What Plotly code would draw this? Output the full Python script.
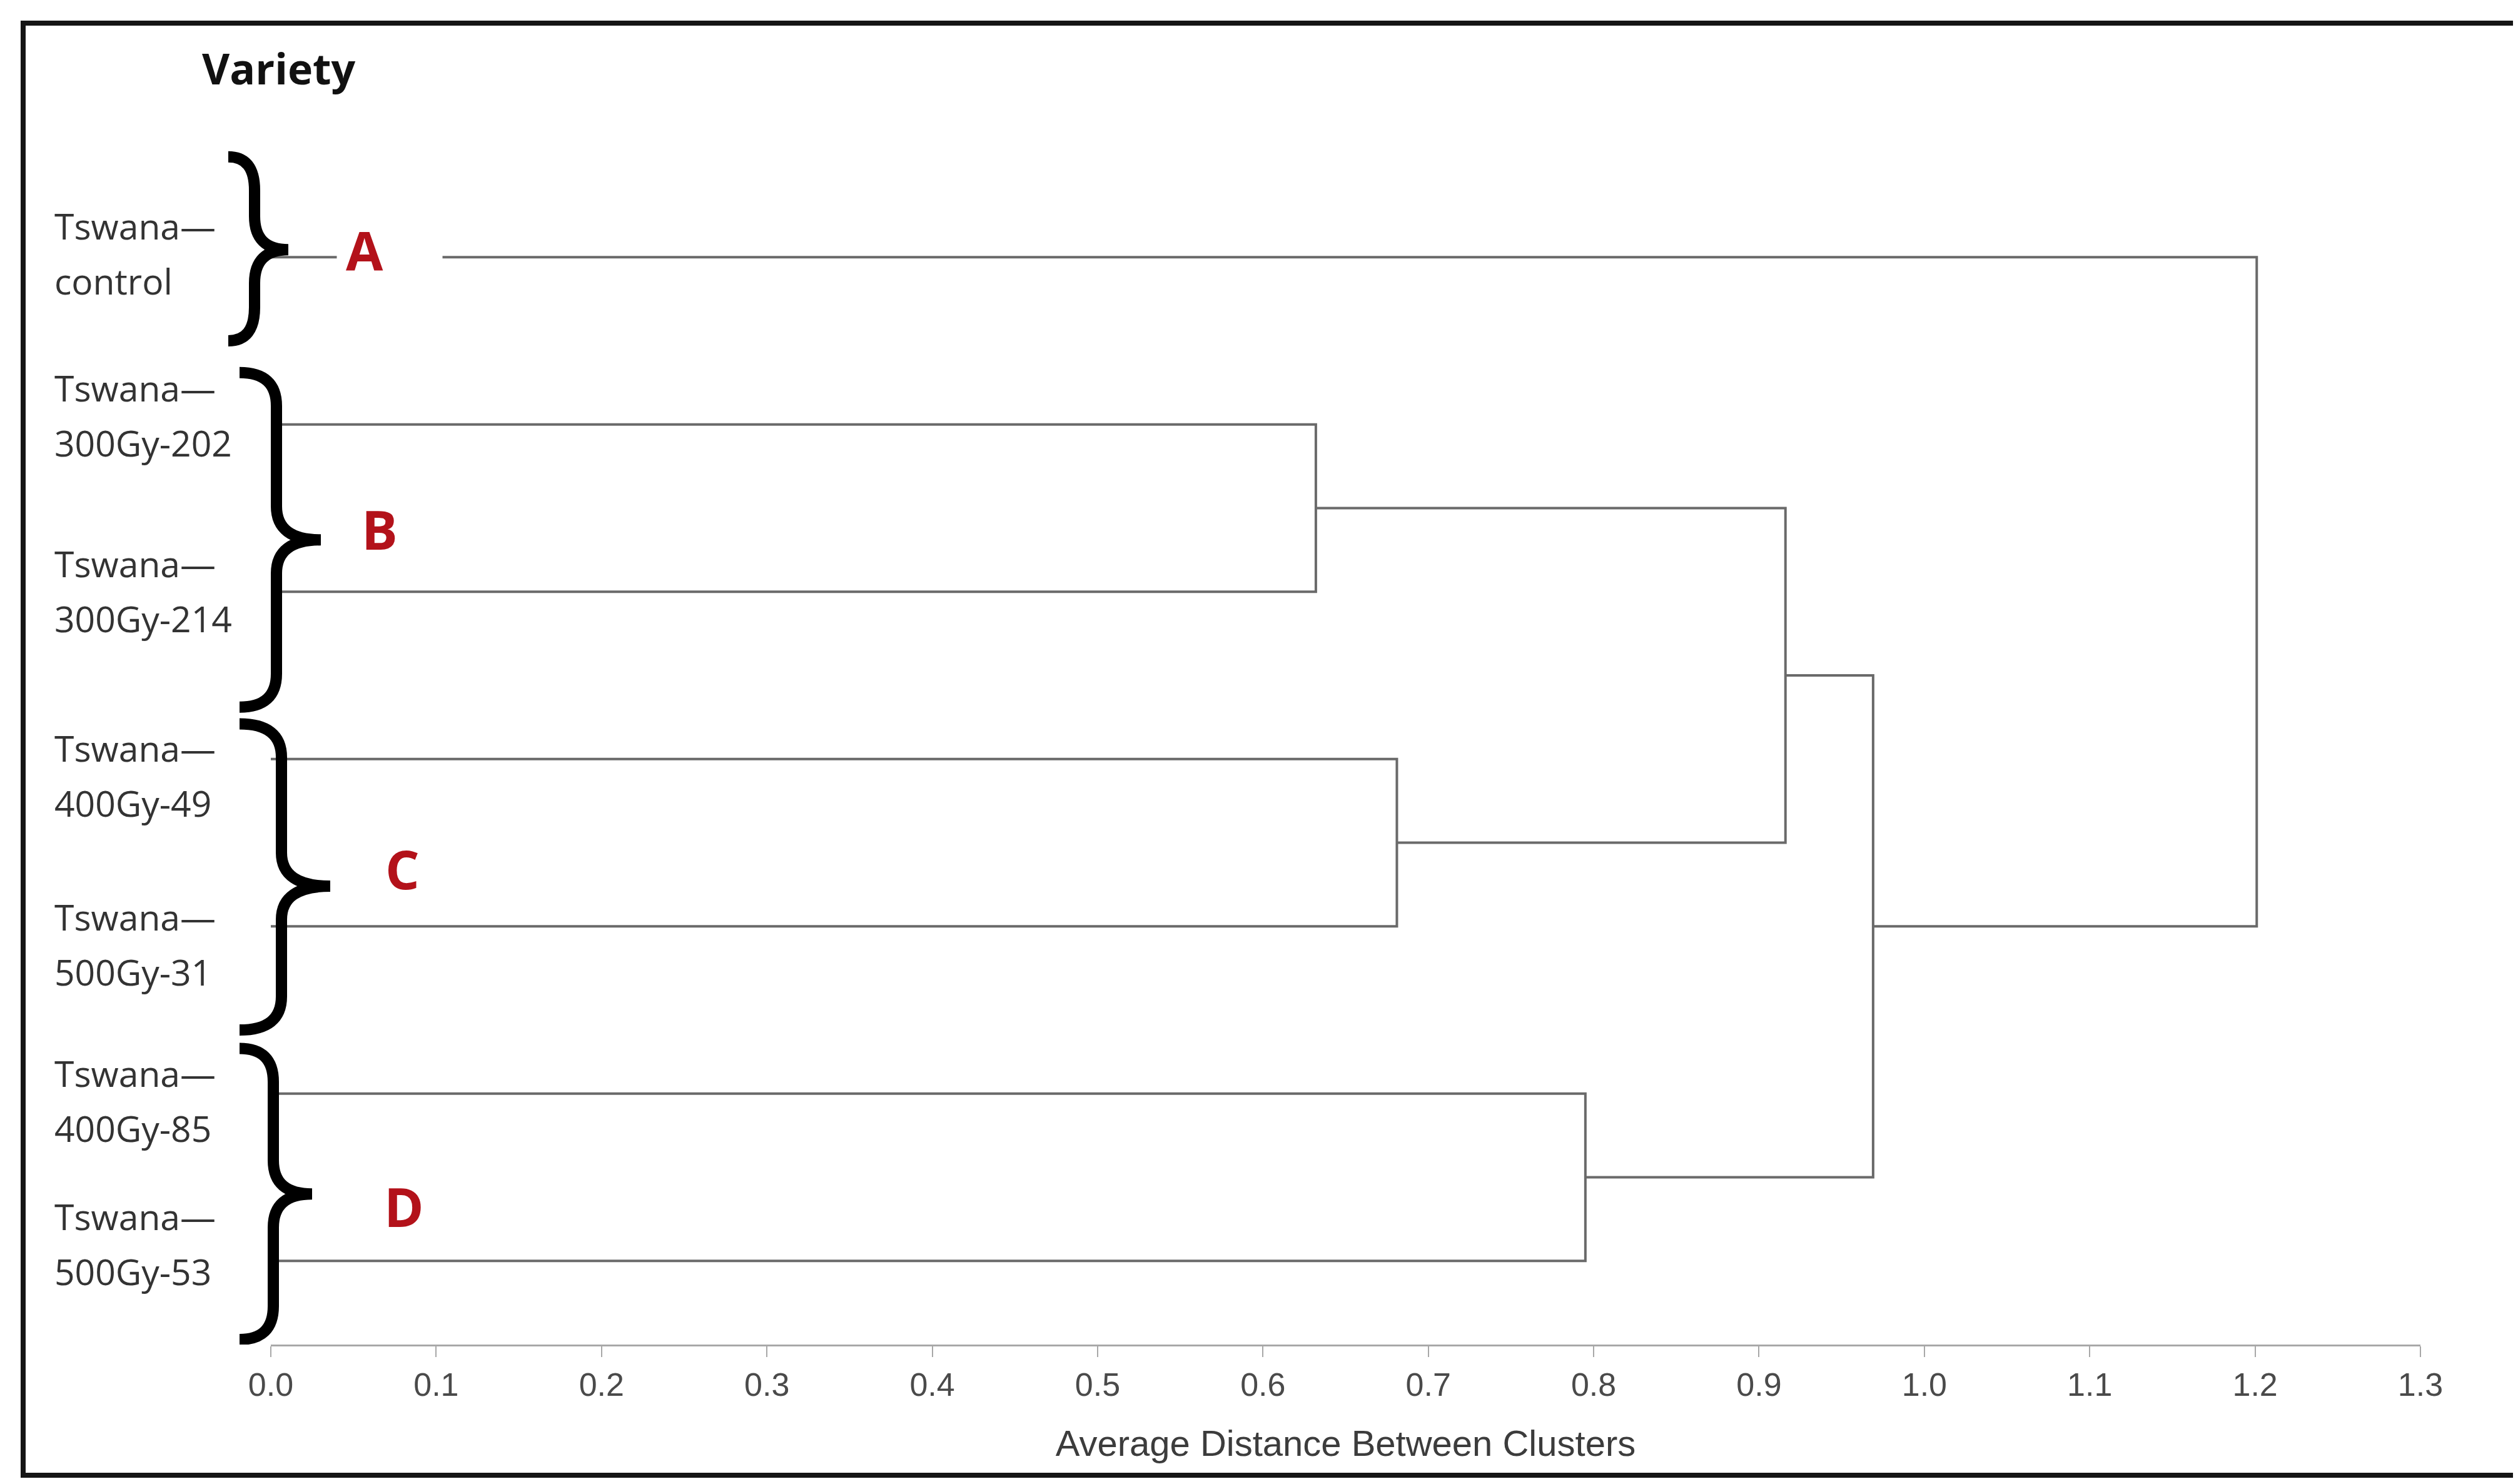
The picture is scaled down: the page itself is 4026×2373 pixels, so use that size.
import plotly.graph_objects as go

# leaves, top to bottom
leaves = ["Tswana—control", "Tswana—300Gy-202", "Tswana—300Gy-214",
          "Tswana—400Gy-49", "Tswana—500Gy-31", "Tswana—400Gy-85", "Tswana—500Gy-53"]

# merges, linkage style: nodes 0-6 are leaves, node 7+ is the i-th merge
merge_left = [1, 3, 5, 7, 10, 0]
merge_right = [2, 4, 6, 8, 9, 11]
merge_dist = [0.632, 0.681, 0.795, 0.916, 0.969, 1.201]

groups = ["A", "B", "C", "D"]
group_leaves = [[0], [1, 2], [3, 4], [5, 6]]

x_ticks = [0.0, 0.1, 0.2, 0.3, 0.4, 0.5, 0.6, 0.7, 0.8, 0.9, 1.0, 1.1, 1.2, 1.3]

# page geometry (pixels)
W, H = 4026, 2373
ML, MR, MT, MB = 425, 164, 216, 231
PW, PH = W - ML - MR, H - MT - MB


def px(x):
    return (x - ML) / PW


def py(y):
    return (H - MB - y) / PH


# dendrogram segments
node_x = [0.0] * len(leaves)
node_y = list(range(len(leaves)))
xs, ys = [], []
for a, b, d in zip(merge_left, merge_right, merge_dist):
    xs += [node_x[a], d, d, node_x[b], None]
    ys += [node_y[a], node_y[a], node_y[b], node_y[b], None]
    node_x.append(d)
    node_y.append((node_y[a] + node_y[b]) / 2)

fig = go.Figure()
fig.add_trace(go.Scatter(x=xs, y=ys, mode='lines', line=dict(color='#6a6a6a', width=4),
                         hoverinfo='skip', showlegend=False))

# leaf labels, two lines, left aligned (hand-placed offsets in the original)
label_shift = [-6, -15, -1, 26, 29, 11, -27]
label_font = dict(family='Open Sans', size=57, color='#333333')
for i, name in enumerate(leaves):
    first, second = name.split('—')
    for txt, dy in [(first + '—', 44), (second, -44)]:
        fig.add_annotation(x=px(77), xref='paper', xanchor='left', y=i, yref='y',
                           yshift=dy - label_shift[i], text=txt, showarrow=False,
                           align='left', font=label_font)

# braces: hook x, body x, tip x (px) and top / tip / bottom (leaf units)
braces = [(357, 399, 453, -0.6, -0.045, 0.5),
          (375, 434, 505, 0.69, 1.69, 2.69),
          (375, 442, 520, 2.79, 3.76, 4.62),
          (375, 429, 491, 4.73, 5.6, 6.47)]
r = 0.2
for hx, bx, tx, top, tip, bot in braces:
    hx, bx, tx = px(hx), px(bx), px(tx)
    path = (f"M {hx},{top} Q {bx},{top} {bx},{top + r} L {bx},{tip - r} "
            f"Q {bx},{tip} {tx},{tip} Q {bx},{tip} {bx},{tip + r} "
            f"L {bx},{bot - r} Q {bx},{bot} {hx},{bot}")
    fig.add_shape(type='path', path=path, xref='paper', yref='y',
                  line=dict(color='black', width=18))

# group letters
letter_x = [530, 599, 635, 638]
letter_shift = [12, -33, -41, -46]
letter_font = dict(family='Open Sans', size=86, color='#b3121a', weight=700)
for k, g in enumerate(groups):
    yc = sum(group_leaves[k]) / len(group_leaves[k])
    if k == 0:
        fig.add_annotation(x=px(letter_x[k]), xref='paper', xanchor='left', y=yc, yref='y',
                           yshift=letter_shift[k], text=g, showarrow=False, align='left',
                           width=140, borderpad=14, bgcolor='white', font=letter_font)
    else:
        fig.add_annotation(x=px(letter_x[k]), xref='paper', xanchor='center', y=yc, yref='y',
                           yshift=letter_shift[k], text=g, showarrow=False, font=letter_font)

fig.add_annotation(x=px(313), xref='paper', xanchor='left', y=py(101), yref='paper',
                   yanchor='middle', text='Variety', showarrow=False,
                   font=dict(family='Open Sans', size=68, color='#111111', weight=700))

# outer frame
fig.add_shape(type='rect', xref='paper', yref='paper', x0=px(29), x1=px(4022),
              y0=py(2351), y1=py(29), line=dict(color='#151515', width=8))

fig.update_xaxes(range=[0, 1.3], tickvals=x_ticks, tickformat='.1f', showgrid=False,
                 zeroline=False, showline=True, linecolor='#a8a8a8', linewidth=3,
                 ticks='outside', ticklen=17, tickwidth=2, tickcolor='#a8a8a8',
                 tickfont=dict(family='Liberation Sans', size=52, color='#4a4a4a'),
                 title=dict(text='Average Distance Between Clusters', standoff=45,
                            font=dict(family='Liberation Sans', size=58, color='#3c3c3c')))
fig.update_yaxes(range=[6.5, -0.7], visible=False)

fig.update_layout(width=W, height=H, margin=dict(l=ML, r=MR, t=MT, b=MB, autoexpand=False),
                  plot_bgcolor='white', paper_bgcolor='white', showlegend=False)

fig.write_html("out.html")
